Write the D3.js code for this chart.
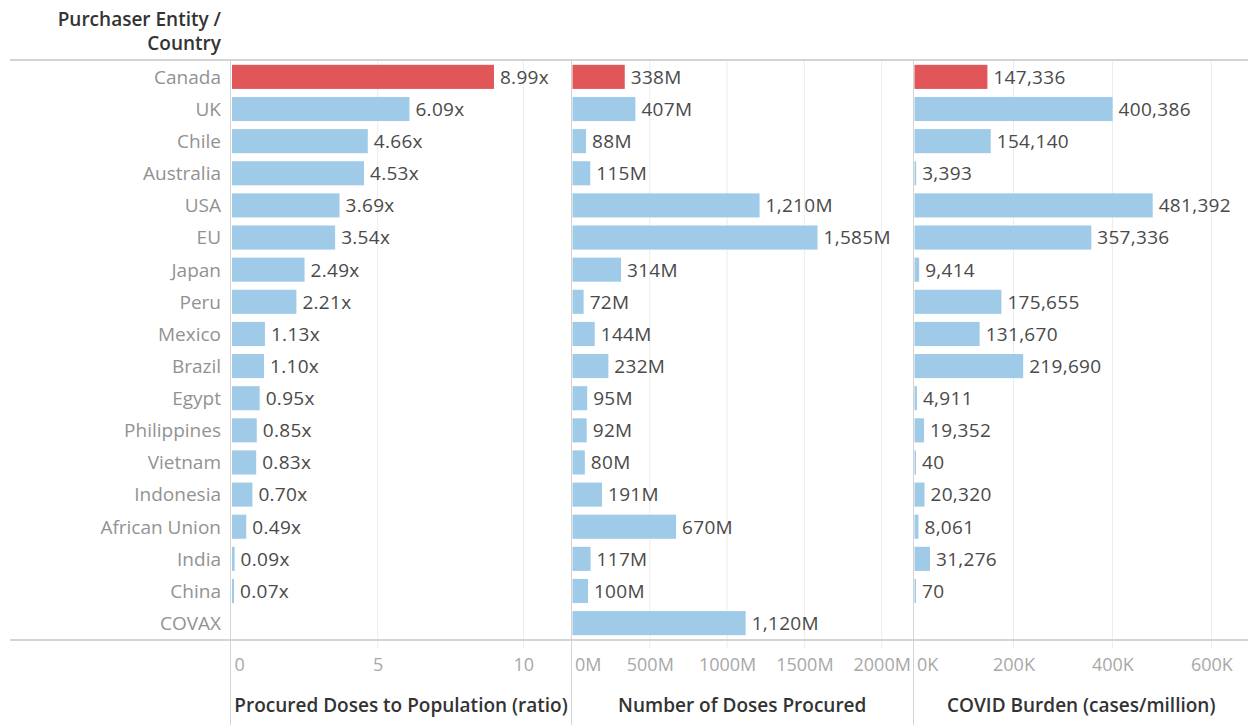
<!DOCTYPE html>
<html>
<head>
<meta charset="utf-8">
<script src="https://cdn.jsdelivr.net/npm/d3@7"></script>
<style>
  html, body { margin: 0; padding: 0; background: #fff; }
  svg { display: block; font-family: "Open Sans", "Lato", sans-serif; }
</style>
</head>
<body>
<svg id="chart" width="1248" height="725"></svg>
<script>
// Purchaser entities, top to bottom
const countries = ["Canada", "UK", "Chile", "Australia", "USA", "EU", "Japan", "Peru", "Mexico",
  "Brazil", "Egypt", "Philippines", "Vietnam", "Indonesia", "African Union", "India", "China", "COVAX"];

// Procured doses relative to population (ratio)
const dosesToPopulation = [8.99, 6.09, 4.66, 4.53, 3.69, 3.54, 2.49, 2.21, 1.13,
  1.10, 0.95, 0.85, 0.83, 0.70, 0.49, 0.09, 0.07, null];

// Number of doses procured (millions)
const dosesProcured = [338, 407, 88, 115, 1210, 1585, 314, 72, 144,
  232, 95, 92, 80, 191, 670, 117, 100, 1120];

// COVID burden (cases per million)
const covidBurden = [147336, 400386, 154140, 3393, 481392, 357336, 9414, 175655, 131670,
  219690, 4911, 19352, 40, 20320, 8061, 31276, 70, null];

const highlighted = ["Canada"];

// Axis ticks per pane
const ratioTicks = [0, 5, 10];
const dosesTicks = [0, 500, 1000, 1500, 2000];
const burdenTicks = [0, 200000, 400000, 600000];

const rowHeader = ["Purchaser Entity /", "Country"];
const paneTitles = ["Procured Doses to Population (ratio)", "Number of Doses Procured", "COVID Burden (cases/million)"];

const svg = d3.select("#chart");
const W = 1248, H = 725;
const plotTop = 60, plotBottom = 640;
const FONT = 19;

const COLORS = { base: "#a0cbe8", hi: "#e15759", grid: "#ececec", rule: "#d4d4d4",
  rowLabel: "#929292", value: "#4a4a4a", tick: "#a8a8a8", title: "#333333" };

const y = d3.scaleBand().domain(countries).range([plotTop, plotBottom]).paddingInner(0.25).paddingOuter(0.15);

const panes = [
  { values: dosesToPopulation, x0: 232, x1: 570, domain: [0, 11.6], ticks: ratioTicks,
    tickFmt: d => d3.format("d")(d), labelFmt: d => d3.format(".2f")(d) + "x" },
  { values: dosesProcured, x0: 572.5, x1: 912, domain: [0, 2196], ticks: dosesTicks,
    tickFmt: d => d + "M", labelFmt: d => d3.format(",")(d) + "M" },
  { values: covidBurden, x0: 914.5, x1: 1248, domain: [0, 674000], ticks: burdenTicks,
    tickFmt: d => (d / 1000) + "K", labelFmt: d => d3.format(",")(d) }
];

// gridlines
panes.forEach(p => {
  p.x = d3.scaleLinear().domain(p.domain).range([p.x0, p.x1]);
  svg.append("g").selectAll("line")
    .data(p.ticks.filter(t => t > 0))
    .join("line")
    .attr("x1", d => p.x(d)).attr("x2", d => p.x(d))
    .attr("y1", plotTop).attr("y2", plotBottom + 8)
    .attr("stroke", COLORS.grid).attr("stroke-width", 1);
});

// horizontal rules
[plotTop, plotBottom].forEach(yy => {
  svg.append("line").attr("x1", 10).attr("x2", W).attr("y1", yy).attr("y2", yy)
    .attr("stroke", COLORS.rule).attr("stroke-width", 2);
});

// pane dividers
[230.5, 571.5, 913.5].forEach(xx => {
  svg.append("line").attr("x1", xx).attr("x2", xx).attr("y1", plotTop).attr("y2", H)
    .attr("stroke", COLORS.rule).attr("stroke-width", 1);
});

// row labels
svg.append("g").selectAll("text")
  .data(countries)
  .join("text")
  .attr("x", 221)
  .attr("y", d => y(d) + y.bandwidth() / 2)
  .attr("dy", "0.36em")
  .attr("text-anchor", "end")
  .attr("font-size", FONT)
  .attr("fill", COLORS.rowLabel)
  .text(d => d);

// header
svg.append("g").selectAll("text")
  .data(rowHeader)
  .join("text")
  .attr("x", 221)
  .attr("y", (d, i) => 26 + i * 24)
  .attr("text-anchor", "end")
  .attr("font-size", 19)
  .attr("font-weight", 600)
  .attr("fill", COLORS.title)
  .text(d => d);

// bars, value labels, axes
panes.forEach((p, pi) => {
  const rows = countries.map((c, i) => ({ c, v: p.values[i] })).filter(r => r.v != null);
  const g = svg.append("g");
  g.selectAll("rect")
    .data(rows)
    .join("rect")
    .attr("x", p.x(0))
    .attr("y", d => y(d.c))
    .attr("width", d => Math.max(1.5, p.x(d.v) - p.x(0)))
    .attr("height", y.bandwidth())
    .attr("fill", d => highlighted.includes(d.c) ? COLORS.hi : COLORS.base);
  g.selectAll("text")
    .data(rows)
    .join("text")
    .attr("x", d => Math.max(p.x(0) + 1.5, p.x(d.v)) + 6)
    .attr("y", d => y(d.c) + y.bandwidth() / 2)
    .attr("dy", "0.36em")
    .attr("font-size", FONT)
    .attr("letter-spacing", 0.3)
    .attr("fill", COLORS.value)
    .text(d => p.labelFmt(d.v));

  const axis = d3.axisBottom(p.x).tickValues(p.ticks).tickFormat(p.tickFmt).tickSize(0).tickPadding(0);
  const ag = svg.append("g").attr("transform", `translate(0, ${plotBottom})`).call(axis);
  ag.select(".domain").remove();
  ag.selectAll("text")
    .attr("y", 25)
    .attr("dy", "0.36em")
    .attr("font-size", 18)
    .attr("font-family", "'Open Sans', Lato, sans-serif")
    .attr("fill", COLORS.tick)
    .attr("text-anchor", d => d === 0 ? "start" : "middle")
    .attr("dx", d => d === 0 ? 2 : 0);

  svg.append("text")
    .attr("x", (p.x0 + p.x1) / 2)
    .attr("y", 705)
    .attr("dy", "0.36em")
    .attr("text-anchor", "middle")
    .attr("font-size", 19)
    .attr("font-weight", 600)
    .attr("fill", COLORS.title)
    .text(paneTitles[pi]);
});
</script>
</body>
</html>
